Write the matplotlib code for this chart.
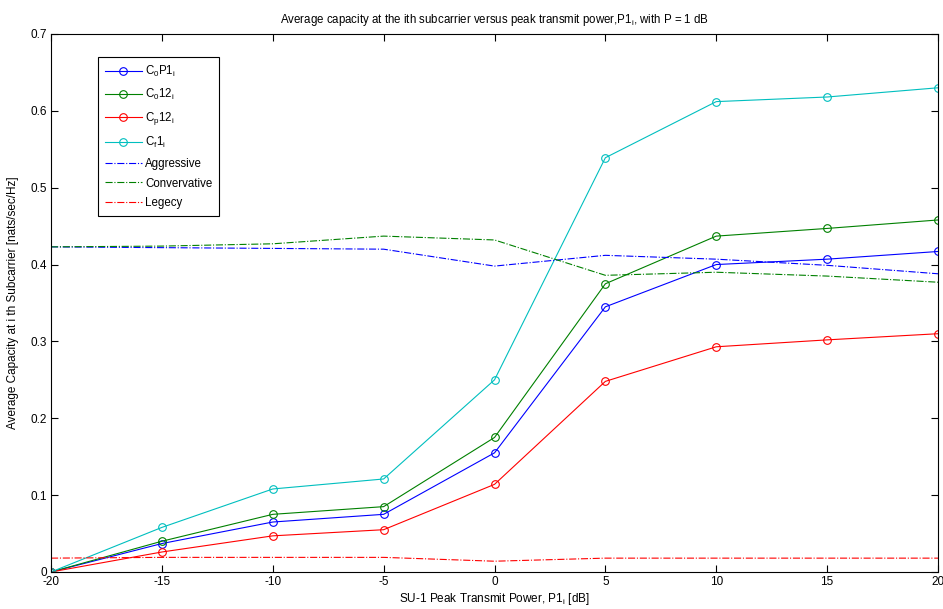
import numpy as np
import matplotlib.pyplot as plt

plt.rcParams['font.family'] = ['Liberation Sans', 'DejaVu Sans']
plt.rcParams['mathtext.fontset'] = 'custom'
plt.rcParams['mathtext.rm'] = 'Liberation Sans'
plt.rcParams['mathtext.it'] = 'Liberation Sans'
plt.rcParams['axes.unicode_minus'] = False

# peak transmit power in dB
p1 = [-20, -15, -10, -5, 0, 5, 10, 15, 20]

# capacity curves with markers
c0p1 = [0, 0.037, 0.065, 0.075, 0.155, 0.345, 0.400, 0.407, 0.417]
c012 = [0, 0.040, 0.075, 0.085, 0.175, 0.375, 0.437, 0.447, 0.458]
cp12 = [0, 0.026, 0.047, 0.055, 0.114, 0.248, 0.293, 0.302, 0.310]
cf1 = [0, 0.058, 0.108, 0.121, 0.250, 0.539, 0.612, 0.618, 0.630]

# reference schemes (dash-dot)
aggressive = [0.423, 0.422, 0.421, 0.420, 0.398, 0.412, 0.407, 0.399, 0.388]
conservative = [0.423, 0.424, 0.427, 0.437, 0.432, 0.386, 0.390, 0.385, 0.377]
legacy = [0.018, 0.019, 0.019, 0.019, 0.014, 0.018, 0.018, 0.018, 0.018]

fig = plt.figure(figsize=(9.43, 6.09), dpi=100)
ax = fig.add_axes([0.0541, 0.0608, 0.9406, 0.8834])

mk = dict(marker='o', markersize=5.5, markerfacecolor='none', lw=0.8, mew=0.8)
ax.plot(p1, c0p1, color='#0000ff', label=r'C$\mathregular{_0}$P1$\mathregular{_i}$', **mk)
ax.plot(p1, c012, color='#008000', label=r'C$\mathregular{_0}$12$\mathregular{_i}$', **mk)
ax.plot(p1, cp12, color='#ff0000', label=r'C$\mathregular{_p}$12$\mathregular{_i}$', **mk)
ax.plot(p1, cf1, color='#00bfbf', label=r'C$\mathregular{_f}$1$\mathregular{_i}$', **mk)
ax.plot(p1, aggressive, color='#0000ff', ls='-.', lw=0.8, label='Aggressive')
ax.plot(p1, conservative, color='#008000', ls='-.', lw=0.8, label='Convervative')
ax.plot(p1, legacy, color='#ff0000', ls='-.', lw=0.8, label='Legecy')

ax.set_xlim(-20, 20)
ax.set_ylim(0, 0.7)
ax.set_xticks(np.arange(-20, 21, 5))
ax.set_yticks(np.arange(0, 0.71, 0.1))
ax.set_yticklabels(['0', '0.1', '0.2', '0.3', '0.4', '0.5', '0.6', '0.7'])
ax.tick_params(direction='in', top=True, right=True, labelsize=8.5, length=5, pad=3)

ax.set_title(r'Average capacity at the ith subcarrier versus peak transmit power,P1$\mathregular{_i}$, with P = 1 dB',
             fontsize=8.3, pad=8)
ax.set_xlabel(r'SU-1 Peak Transmit Power, P1$\mathregular{_i}$ [dB]', fontsize=8.5, labelpad=2)
ax.set_ylabel('Average Capacity at i th Subcarrier [nats/sec/Hz]', fontsize=8.5, labelpad=8)

leg = ax.legend(loc='upper left', bbox_to_anchor=(0.053, 0.957), borderaxespad=0, fontsize=8.3,
                fancybox=False, edgecolor='black', framealpha=1, handlelength=3.2,
                handletextpad=0.3, labelspacing=0.68, borderpad=0.6)
leg.get_frame().set_linewidth(0.8)

fig.savefig('out.png', dpi=100)
